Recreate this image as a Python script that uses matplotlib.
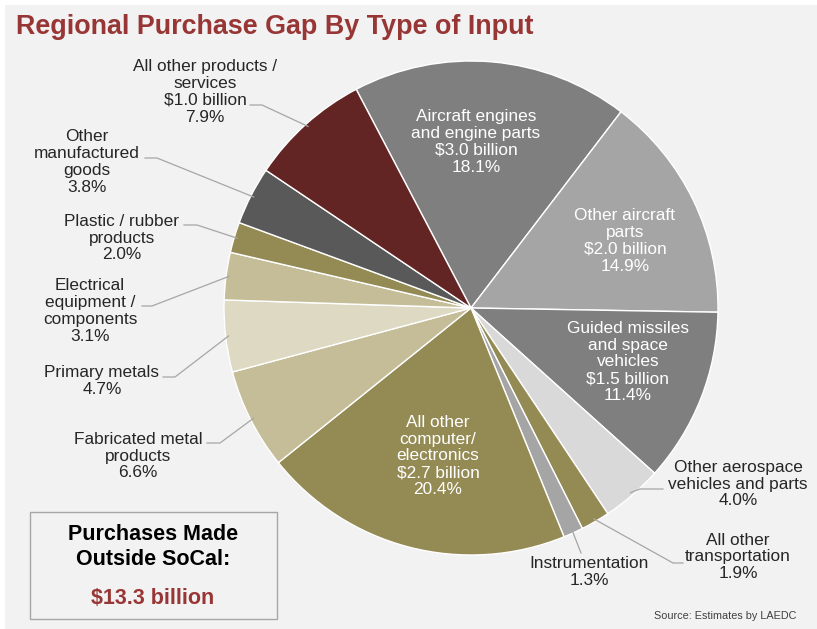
import numpy as np
import matplotlib.pyplot as plt
from matplotlib.patches import Rectangle

plt.rcParams['font.family'] = ['Liberation Sans', 'DejaVu Sans']

# purchase gap by input type, clockwise from the top
labels = [
    "Aircraft engines\nand engine parts\n$3.0 billion\n18.1%",
    "Other aircraft\nparts\n$2.0 billion\n14.9%",
    "Guided missiles\nand space\nvehicles\n$1.5 billion\n11.4%",
    "Other aerospace\nvehicles and parts\n4.0%",
    "All other\ntransportation\n1.9%",
    "Instrumentation\n1.3%",
    "All other\ncomputer/\nelectronics\n$2.7 billion\n20.4%",
    "Fabricated metal\nproducts\n6.6%",
    "Primary metals\n4.7%",
    "Electrical\nequipment /\ncomponents\n3.1%",
    "Plastic / rubber\nproducts\n2.0%",
    "Other\nmanufactured\ngoods\n3.8%",
    "All other products /\nservices\n$1.0 billion\n7.9%",
]
shares = [18.1, 14.9, 11.4, 4.0, 1.9, 1.3, 20.4, 6.6, 4.7, 3.1, 2.0, 3.8, 7.9]
colors = ['#7f7f7f', '#a5a5a5', '#7f7f7f', '#d9d9d9', '#948a54', '#a5a5a5',
          '#948a54', '#c4bd97', '#ddd9c3', '#c4bd97', '#948a54', '#595959', '#632523']
inside = [True, True, True, False, False, False, True,
          False, False, False, False, False, False]

W, H = 817, 629
fig = plt.figure(figsize=(W / 100, H / 100), dpi=100)
fig.patch.set_facecolor('white')
ax = fig.add_axes([0, 0, 1, 1])

# panel background (y measured upward in pixels)
ax.add_patch(Rectangle((5, 0), W - 5, H - 5, facecolor='#f2f2f2', edgecolor='none', zorder=0))

cx, cy, R = 471, H - 308, 247
wedges, _ = ax.pie(shares, colors=colors, startangle=117.7, counterclock=False,
                   center=(cx, cy), radius=R, frame=True,
                   wedgeprops=dict(edgecolor='white', linewidth=1.0))
ax.set_xlim(0, W)
ax.set_ylim(0, H)
ax.set_aspect('auto')
ax.axis('off')

# text block positions (x, y from top), and leader line knee points
text_pos = {
    0: (476, 142), 1: (625, 241), 2: (628, 362), 6: (438, 456),
    3: (738, 484), 4: (738, 557), 5: (589, 572),
    7: (138, 456), 8: (102, 381), 9: (90, 311), 10: (122, 238),
    11: (87, 162), 12: (205, 92),
}
leaders = {
    3: [(663, 489), (640, 489)],
    4: [(683, 563), (673, 563)],
    5: [(581, 553)],
    7: [(207, 443), (220, 443)],
    8: [(163, 377), (175, 377)],
    9: [(142, 306), (152, 306)],
    10: [(184, 225), (197, 225)],
    11: [(145, 158), (157, 158)],
    12: [(250, 105), (262, 105)],
}

for i, w in enumerate(wedges):
    x, y = text_pos[i]
    if inside[i]:
        ax.text(x, H - y, labels[i], ha='center', va='center', color='white',
                fontsize=12.4, linespacing=1.15)
        continue
    ax.text(x, H - y, labels[i], ha='center', va='center', color='#262626',
            fontsize=12.4, linespacing=1.15)
    # leader runs from the knee points to the wedge's outer edge
    mid = np.deg2rad((w.theta1 + w.theta2) / 2)
    ex, ey = cx + (R - 3) * np.cos(mid), cy + (R - 3) * np.sin(mid)
    pts = leaders[i]
    xs = [p[0] for p in pts] + [ex]
    ys = [H - p[1] for p in pts] + [ey]
    ax.plot(xs, ys, color='#a6a6a6', lw=0.9, zorder=1)

fig.text(16 / W, 1 - 27 / H, "Regional Purchase Gap By Type of Input", ha='left', va='center',
         fontsize=19.4, fontweight='bold', color='#983636')

# total summary box
ax.add_patch(Rectangle((30, H - 619), 247, 107, facecolor='none', edgecolor='#a6a6a6', lw=1.0, zorder=3))
ax.text(153, H - 547, "Purchases Made\nOutside SoCal:", ha='center', va='center',
        fontsize=15.5, fontweight='bold', color='black', linespacing=1.2)
ax.text(153, H - 598, "$13.3 billion", ha='center', va='center',
        fontsize=15.5, fontweight='bold', color='#983636')

ax.text(796, H - 616, "Source: Estimates by LAEDC", ha='right', va='center',
        fontsize=7.8, color='#404040')

fig.savefig('out.png', dpi=100, facecolor=fig.get_facecolor())
